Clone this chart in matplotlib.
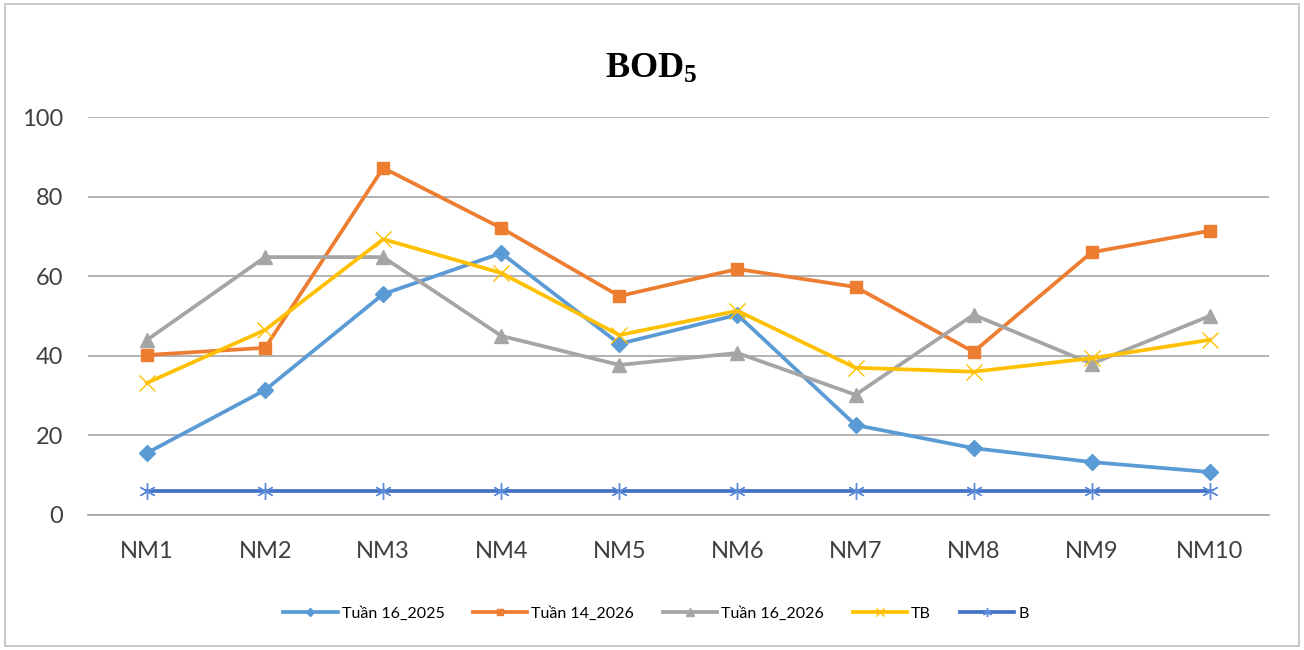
import numpy as np
import matplotlib
matplotlib.use("Agg")
import matplotlib.pyplot as plt
from matplotlib.patches import Rectangle

# data
stations = ['NM1', 'NM2', 'NM3', 'NM4', 'NM5', 'NM6', 'NM7', 'NM8', 'NM9', 'NM10']
tuan16_2025 = [15.6, 31.4, 55.5, 65.8, 43.0, 50.3, 22.6, 16.8, 13.3, 10.8]
tuan14_2026 = [40.2, 42.0, 87.2, 72.1, 55.0, 61.8, 57.3, 41.0, 66.0, 71.4]
tuan16_2026 = [44.0, 64.8, 64.8, 45.0, 37.7, 40.7, 30.2, 50.3, 38.0, 50.0]
tb = [33.2, 46.5, 69.3, 60.8, 45.2, 51.3, 37.0, 36.0, 39.4, 44.0]
b = [6, 6, 6, 6, 6, 6, 6, 6, 6, 6]
y_ticks = [0, 20, 40, 60, 80, 100]

plt.rcParams['font.family'] = ['Lato', 'DejaVu Sans']
plt.rcParams['mathtext.fontset'] = 'custom'
plt.rcParams['mathtext.rm'] = 'Liberation Serif:bold'
plt.rcParams['mathtext.it'] = 'Liberation Serif:bold'
plt.rcParams['mathtext.bf'] = 'Liberation Serif:bold'

fig = plt.figure(figsize=(13.04, 6.5), dpi=100)
ax = fig.add_axes([0.0675, 0.2077, 0.9055, 0.6123])

x = np.arange(len(stations))
lw = 2.7
ax.plot(x, tuan16_2025, color='#5B9BD5', lw=lw, marker='D', ms=8,
        label='Tuần 16_2025', zorder=3)
ax.plot(x, tuan14_2026, color='#ED7D31', lw=lw, marker='s', ms=9,
        label='Tuần 14_2026', zorder=3)
ax.plot(x, tuan16_2026, color='#A5A5A5', lw=lw, marker='^', ms=10,
        label='Tuần 16_2026', zorder=3)
ax.plot(x, tb, color='#FFC000', lw=lw, marker='x', ms=11, mew=1,
        label='TB', zorder=3)
ax.plot(x, b, color='#4472C4', lw=lw, marker=(6, 2, 0), ms=12, mew=1,
        mec='#5B8BD9', label='B', zorder=3)

ax.set_xlim(-0.5, len(stations) - 0.5)
ax.set_ylim(0, 100)
ax.set_yticks(y_ticks)
ax.set_xticks(x, stations)
ax.tick_params(axis='both', length=0, labelsize=17, colors='#404040')
ax.tick_params(axis='x', pad=19)
ax.tick_params(axis='y', pad=18)
ax.grid(axis='y', color='#A6A6A6', lw=1.2)
ax.set_axisbelow(True)
for s in ['left', 'right', 'top']:
    ax.spines[s].set_visible(False)
ax.spines['bottom'].set_color('#A6A6A6')
ax.spines['bottom'].set_linewidth(1.2)

fig.text(0.499, 0.895, r'$\mathrm{BOD_5}$', ha='center', va='center', fontsize=26)

fig.legend(loc='center', bbox_to_anchor=(0.503, 0.056), ncol=5, frameon=False,
           fontsize=11.5, handlelength=3.4, columnspacing=1.8, handletextpad=0.25,
           markerscale=0.55)

fig.add_artist(Rectangle((0.004, 0.006), 0.992, 0.988, transform=fig.transFigure,
                         fill=False, edgecolor='#BFBFBF', lw=1.2))

fig.savefig('out.png', dpi=100, facecolor='white')
